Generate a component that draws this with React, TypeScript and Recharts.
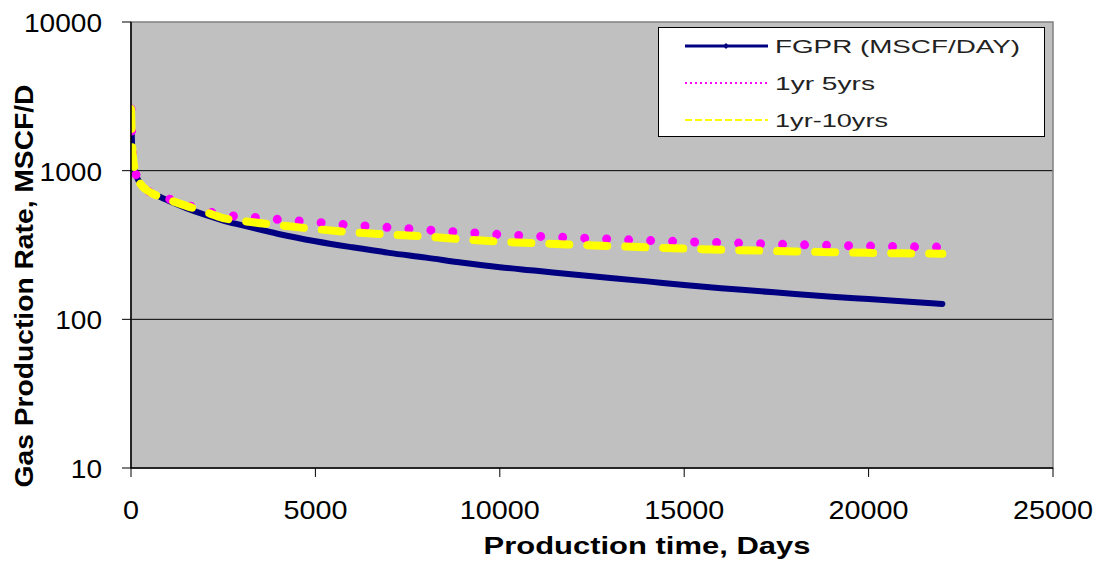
import React from "react";
import {
  LineChart,
  Line,
  XAxis,
  YAxis,
  CartesianGrid,
  ReferenceArea,
} from "recharts";

const days = [0, 15, 30, 60, 100, 150, 200, 300, 400, 500, 700, 1000, 1500, 2000, 2500, 3000, 4000, 5000, 6000, 7000, 8000, 9000, 10000, 11000, 12000, 13000, 14000, 15000, 16000, 17000, 18000, 19000, 20000, 21000, 22000];
const fgpr = [2600, 1900, 1500, 1200, 1020, 920, 860, 790, 750, 720, 680, 630, 560, 505, 462, 430, 375, 335, 305, 280, 260, 240, 224, 212, 200, 190, 180, 170, 162, 155, 148, 142, 137, 132, 127];
const oneToFive = [2600, 1900, 1500, 1200, 1020, 920, 860, 790, 750, 720, 690, 650, 590, 540, 503, 492, 470, 450, 430, 415, 400, 385, 372, 362, 354, 346, 339, 333, 328, 323, 318, 314, 311, 308, 306];
const oneToTen = [2600, 1900, 1500, 1200, 1020, 920, 860, 790, 750, 720, 680, 640, 580, 530, 480, 460, 430, 405, 385, 372, 360, 345, 333, 325, 318, 311, 305, 299, 294, 290, 286, 283, 280, 278, 276];

const xTicks = [0, 5000, 10000, 15000, 20000, 25000];
const yTicks = [10, 100, 1000, 10000];

const seriesNames = ["FGPR  (MSCF/DAY)", "1yr 5yrs", "1yr-10yrs"];
const seriesColors = ["#000080", "#FF00FF", "#FFFF00"];

const data = days.map((d, i) => ({
  day: d,
  fgpr: fgpr[i],
  five: oneToFive[i],
  ten: oneToTen[i],
}));

const FONT = "'Liberation Sans', Arial, sans-serif";

const YTick = (props: any) => {
  const { x, y, payload } = props;
  const s = String(payload.value);
  return (
    <text
      x={x}
      y={y + 10}
      textAnchor="end"
      fontFamily={FONT}
      fontSize={26}
      fill="#000"
      textLength={s.length * 15.6}
      lengthAdjust="spacingAndGlyphs"
    >
      {s}
    </text>
  );
};

const XTick = (props: any) => {
  const { x, y, payload } = props;
  const s = String(payload.value);
  return (
    <text
      x={x}
      y={y + 42}
      textAnchor="middle"
      fontFamily={FONT}
      fontSize={26}
      fill="#000"
      textLength={s.length * 16}
      lengthAdjust="spacingAndGlyphs"
    >
      {s}
    </text>
  );
};

const LegendBox = () => {
  const rows = [
    { dash: undefined as string | undefined, w: 3 },
    { dash: "2 3", w: 2 },
    { dash: "7 3", w: 2 },
  ];
  return (
    <svg width={387} height={110} style={{ display: "block" }}>
      <rect x={0.5} y={0.5} width={386} height={109} fill="#fff" stroke="#000" strokeWidth={1} />
      {rows.map((r, i) => {
        const cy = 19 + i * 37;
        return (
          <g key={i}>
            <line
              x1={27}
              x2={110}
              y1={cy}
              y2={cy}
              stroke={seriesColors[i]}
              strokeWidth={r.w}
              strokeDasharray={r.dash}
            />
            {i === 0 && (
              <path d={`M68 ${cy - 3} L71 ${cy} L68 ${cy + 3} L65 ${cy} Z`} fill="#000080" />
            )}
            <text
              x={117}
              y={cy + 7}
              fontFamily={FONT}
              fontSize={19}
              fill="#222"
              textLength={i === 0 ? 245 : i === 1 ? 100 : 113}
              lengthAdjust="spacingAndGlyphs"
            >
              {seriesNames[i]}
            </text>
          </g>
        );
      })}
    </svg>
  );
};

const XTitle = () => (
  <text
    x={647}
    y={554}
    textAnchor="middle"
    fontFamily={FONT}
    fontWeight="bold"
    fontSize={24}
    fill="#000"
    textLength={327}
    lengthAdjust="spacingAndGlyphs"
  >
    Production time, Days
  </text>
);

const YTitle = () => (
  <text
    x={33}
    y={286}
    transform="rotate(-90, 33, 286)"
    textAnchor="middle"
    fontFamily={FONT}
    fontWeight="bold"
    fontSize={25}
    fill="#000"
    textLength={403}
    lengthAdjust="spacingAndGlyphs"
  >
    Gas Production Rate, MSCF/D
  </text>
);

export default function App() {
  return (
    <div style={{ position: "relative", width: 1096, height: 562, background: "#fff" }}>
      <style>{`body{margin:0}`}</style>
      <LineChart
        width={1096}
        height={562}
        data={data}
        margin={{ top: 22, right: 43, bottom: 0, left: 0 }}
      >
        <CartesianGrid
          fill="#C0C0C0"
          stroke="#000"
          strokeWidth={1}
          vertical={false}
          horizontalValues={[100, 1000]}
        />
        <ReferenceArea
          x1={0}
          x2={25000}
          y1={10}
          y2={10000}
          fill="none"
          fillOpacity={0}
          stroke="#808080"
          strokeWidth={1.5}
          ifOverflow="visible"
        />
        <XAxis
          dataKey="day"
          type="number"
          domain={[0, 25000]}
          ticks={xTicks}
          tickSize={9}
          tickMargin={0}
          height={94}
          stroke="#000"
          tickLine={{ stroke: "#000" }}
          axisLine={{ stroke: "#000", strokeWidth: 1.5 }}
          tick={<XTick />}
          interval={0}
          allowDataOverflow
          label={{ content: () => <XTitle /> }}
        />
        <YAxis
          scale="log"
          domain={[10, 10000]}
          ticks={yTicks}
          type="number"
          allowDataOverflow
          width={131}
          tickSize={9}
          tickMargin={20}
          interval={0}
          axisLine={{ stroke: "#000", strokeWidth: 1.5 }}
          tickLine={{ stroke: "#000" }}
          tick={<YTick />}
          label={{ content: () => <YTitle /> }}
        />
        <Line
          dataKey="fgpr"
          name={seriesNames[0]}
          stroke={seriesColors[0]}
          strokeWidth={6}
          strokeLinecap="round"
          dot={false}
          type="monotone"
          isAnimationActive={false}
        />
        <Line
          dataKey="five"
          name={seriesNames[1]}
          stroke={seriesColors[1]}
          strokeWidth={9}
          strokeLinecap="round"
          strokeDasharray="0 22"
          dot={false}
          type="monotone"
          isAnimationActive={false}
        />
        <Line
          dataKey="ten"
          name={seriesNames[2]}
          stroke={seriesColors[2]}
          strokeWidth={8}
          strokeLinecap="round"
          strokeDasharray="20 18"
          dot={false}
          type="monotone"
          isAnimationActive={false}
        />
      </LineChart>
      <div style={{ position: "absolute", left: 658, top: 27 }}>
        <LegendBox />
      </div>
    </div>
  );
}
